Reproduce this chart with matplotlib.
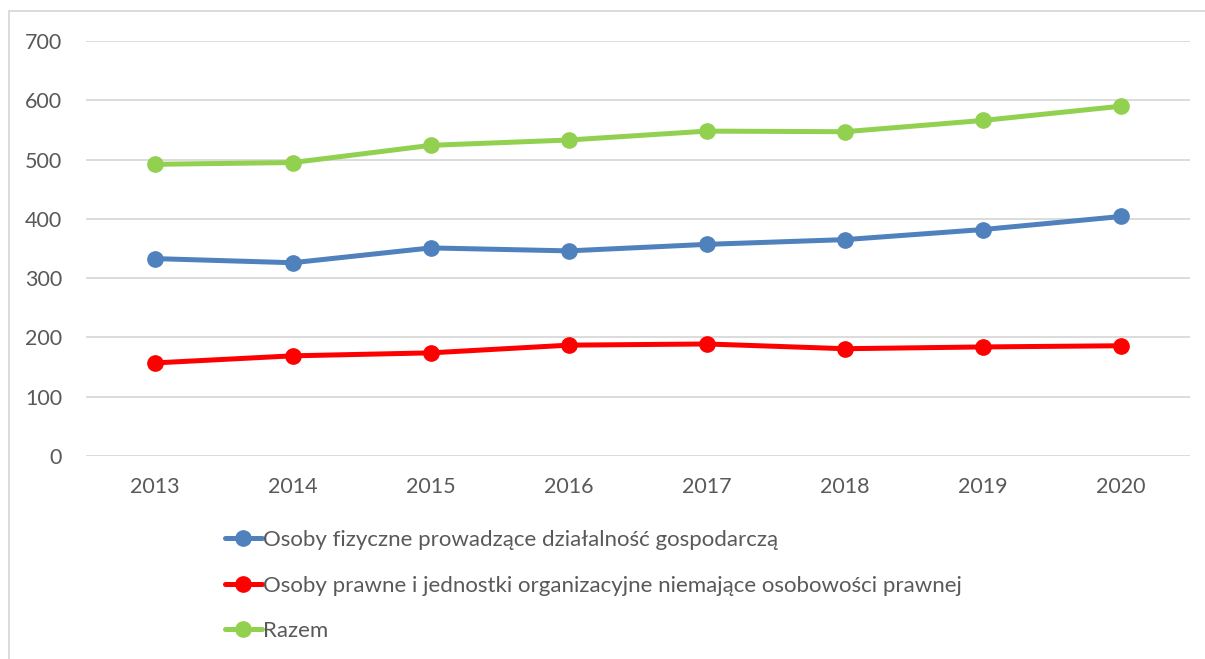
import matplotlib.pyplot as plt
import matplotlib.patches as patches

years = ["2013", "2014", "2015", "2016", "2017", "2018", "2019", "2020"]
fizyczne = [333, 326, 351, 346, 357, 365, 382, 404]
prawne = [157, 169, 174, 187, 189, 181, 184, 186]
razem = [492, 495, 524, 533, 548, 547, 566, 590]

labels = [
    "Osoby fizyczne prowadzące działalność gospodarczą",
    "Osoby prawne i jednostki organizacyjne niemające osobowości prawnej",
    "Razem",
]
colors = ["#4F81BD", "#FF0000", "#92D050"]
text_color = "#595959"

plt.rcParams["font.family"] = ["Lato", "DejaVu Sans"]

fig = plt.figure(figsize=(12.05, 6.59), dpi=100)
ax = fig.add_axes([0.0711, 0.308, 0.9165, 0.6298])

x = range(len(years))
for values, label, color in zip([fizyczne, prawne, razem], labels, colors):
    ax.plot(x, values, color=color, linewidth=3.6, marker="o",
            markersize=11, label=label, solid_capstyle="round")

ax.set_xlim(-0.5, len(years) - 0.5)
ax.set_ylim(0, 700)
ax.set_yticks(range(0, 701, 100))
ax.set_xticks(list(x))
ax.set_xticklabels(years)
ax.grid(axis="y", color="#D9D9D9", linewidth=1.3)
ax.set_axisbelow(True)
for side in ["top", "right", "left", "bottom"]:
    ax.spines[side].set_visible(False)
ax.tick_params(axis="both", length=0, labelsize=15.5, colors=text_color)
ax.tick_params(axis="y", pad=17)
ax.tick_params(axis="x", pad=15)

handles, lbls = ax.get_legend_handles_labels()
leg = fig.legend(handles, lbls, loc="upper left",
                 bbox_to_anchor=(225 / 1205, 1 - 530 / 659),
                 frameon=False, fontsize=16, handlelength=1.65,
                 handletextpad=0.05, labelspacing=1.15, borderpad=0,
                 borderaxespad=0)
for t in leg.get_texts():
    t.set_color(text_color)

# outer frame of the chart area
frame = patches.Rectangle((9 / 1205, -0.05), 1.2, 1 - 11 / 659 + 0.05,
                          transform=fig.transFigure, fill=False,
                          edgecolor="#D9D9D9", linewidth=1.3)
fig.patches.append(frame)

fig.savefig("out.png", dpi=100)
